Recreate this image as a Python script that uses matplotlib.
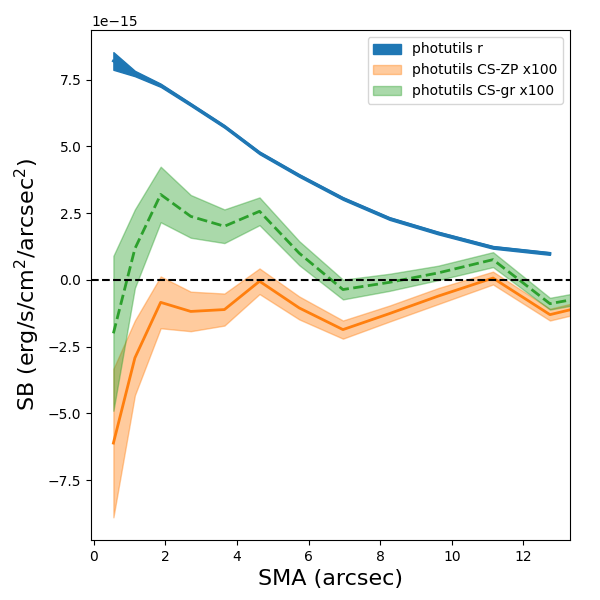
import numpy as np
import matplotlib
matplotlib.use("Agg")
import matplotlib.pyplot as plt

# SMA (arcsec)
sma = np.array([0.55, 1.15, 1.87, 2.71, 3.65, 4.63, 5.74, 6.96, 8.26, 9.61, 11.15, 12.74, 14.45])

# photutils r profile (units of 1e-15)
sb_r = np.array([8.20, 7.73, 7.29, 6.57, 5.75, 4.76, 3.91, 3.05, 2.30, 1.76, 1.22, 0.99])
sb_r_err = np.array([0.33, 0.10, 0.06, 0.05, 0.05, 0.05, 0.05, 0.05, 0.05, 0.05, 0.05, 0.05])

# CS-ZP x100
sb_zp = np.array([-6.11, -2.92, -0.84, -1.18, -1.11, -0.05, -1.05, -1.86, -1.26, -0.61, 0.07, -1.30, -0.75])
sb_zp_err = np.array([2.78, 1.40, 0.97, 0.74, 0.60, 0.48, 0.43, 0.34, 0.30, 0.30, 0.24, 0.22, 0.22])

# CS-gr x100
sb_gr = np.array([-2.00, 1.17, 3.20, 2.38, 2.01, 2.57, 1.00, -0.36, -0.09, 0.26, 0.76, -0.89, -0.47])
sb_gr_err = np.array([2.90, 1.47, 1.04, 0.80, 0.63, 0.52, 0.45, 0.37, 0.32, 0.27, 0.28, 0.22, 0.22])

scale = 1e-15

fig = plt.figure(figsize=(6, 6), dpi=100)
ax = fig.add_axes([0.152, 0.1, 0.798, 0.85])

n = len(sb_r)
ax.fill_between(sma[:n], (sb_r - sb_r_err) * scale, (sb_r + sb_r_err) * scale,
                color='C0', alpha=1.0, label='photutils r')
ax.plot(sma[:n], sb_r * scale, color='C0', lw=2)

ax.fill_between(sma, (sb_zp - sb_zp_err) * scale, (sb_zp + sb_zp_err) * scale,
                color='C1', alpha=0.4, label='photutils CS-ZP x100')
ax.plot(sma, sb_zp * scale, color='C1', lw=2)

ax.fill_between(sma, (sb_gr - sb_gr_err) * scale, (sb_gr + sb_gr_err) * scale,
                color='C2', alpha=0.4, label='photutils CS-gr x100')
ax.plot(sma, sb_gr * scale, color='C2', lw=2, ls='--')

ax.axhline(0, color='k', ls='--', lw=1.5)

ax.set_xlim(-0.07, 13.3)
ax.set_ylim(-9.74e-15, 9.36e-15)
ax.set_xlabel('SMA (arcsec)', fontsize=16)
ax.set_ylabel('SB (erg/s/cm$^2$/arcsec$^2$)', fontsize=16)
ax.legend(loc='upper right')

fig.savefig('out.png', dpi=100)
